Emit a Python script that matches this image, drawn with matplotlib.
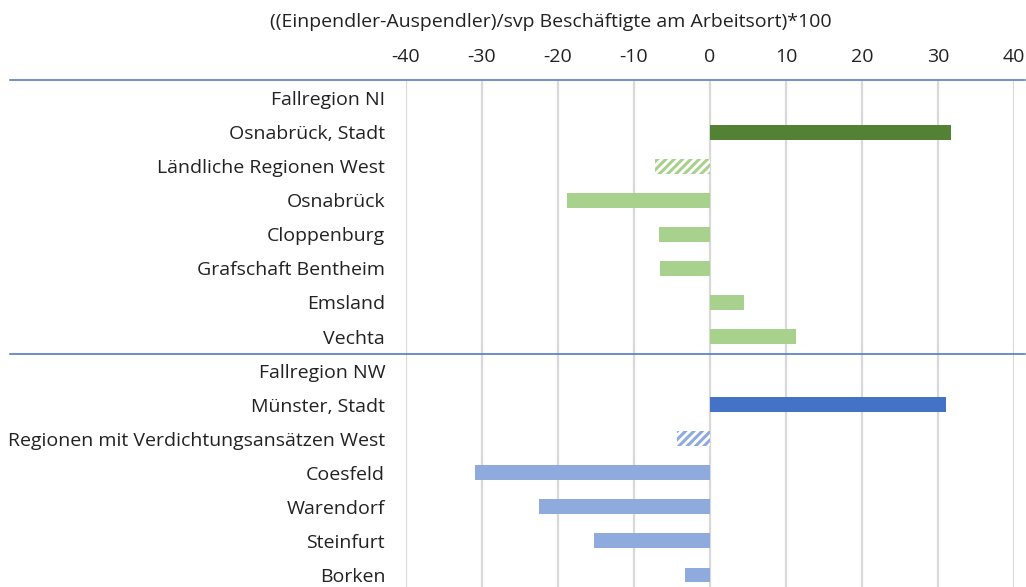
import matplotlib
matplotlib.use('Agg')
import matplotlib.pyplot as plt
import matplotlib.transforms as mtransforms

# Data
categories = [
    "Fallregion NI", "Osnabrück, Stadt", "Ländliche Regionen West", "Osnabrück",
    "Cloppenburg", "Grafschaft Bentheim", "Emsland", "Vechta",
    "Fallregion NW", "Münster, Stadt", "Regionen mit Verdichtungsansätzen West",
    "Coesfeld", "Warendorf", "Steinfurt", "Borken",
]
values = [None, 31.7, -7.3, -18.8, -6.7, -6.6, 4.5, 11.3,
          None, 31.1, -4.4, -30.9, -22.5, -15.3, -3.3]
kinds = ["head", "city", "type", "dist", "dist", "dist", "dist", "dist",
         "head", "city", "type", "dist", "dist", "dist", "dist"]
groups = ["NI"] * 8 + ["NW"] * 7
x_ticks = [-40, -30, -20, -10, 0, 10, 20, 30, 40]

DARK = {"NI": "#548235", "NW": "#4472C4"}
LIGHT = {"NI": "#A9D18E", "NW": "#8FAADC"}
SEP_COLOR = "#4472C4"
GRID = "#D9D9D9"
FS = 14

plt.rcParams['font.family'] = ['Open Sans', 'DejaVu Sans']
plt.rcParams['hatch.linewidth'] = 2.2

fig = plt.figure(figsize=(10.26, 5.87), dpi=100)
ax = fig.add_axes([406 / 1026, 0, 608 / 1026, 1 - 81 / 587])

ypos = list(range(len(categories)))
h = 0.44
for y, v, k, g in zip(ypos, values, kinds, groups):
    if v is None:
        continue
    if k == "city":
        ax.barh(y, v, height=h, color=DARK[g], zorder=3)
    elif k == "type":
        ax.barh(y, v, height=h, color="white", edgecolor=LIGHT[g],
                hatch="////", linewidth=0, zorder=3)
    else:
        ax.barh(y, v, height=h, color=LIGHT[g], zorder=3)

ax.set_xlim(-40, 40)
ax.set_ylim(14 + 12 / 34.07, -0.5)
ax.set_xticks(x_ticks)
ax.set_xticklabels([str(t) for t in x_ticks], fontsize=FS, color="#222222")
ax.xaxis.tick_top()
ax.tick_params(axis='x', length=0, pad=11)
ax.set_yticks(ypos)
ax.set_yticklabels(categories, fontsize=FS, color="#222222")
ax.tick_params(axis='y', length=0, pad=15)
ax.grid(axis='x', color=GRID, linewidth=1.6, zorder=0)
ax.set_axisbelow(True)
for s in ax.spines.values():
    s.set_visible(False)

# group separator lines spanning the label area as well
trans = mtransforms.blended_transform_factory(fig.transFigure, ax.transData)
for yl in [-0.53, 7.5]:
    ax.plot([10 / 1026, 1025 / 1026], [yl, yl], color=SEP_COLOR, linewidth=1.1,
            transform=trans, clip_on=False, zorder=4)

fig.text(551 / 1026, 1 - 22 / 587, "((Einpendler-Auspendler)/svp Beschäftigte am Arbeitsort)*100",
         ha='center', va='center', fontsize=FS, color="#222222")

fig.savefig("out.png", dpi=100, facecolor="white")
